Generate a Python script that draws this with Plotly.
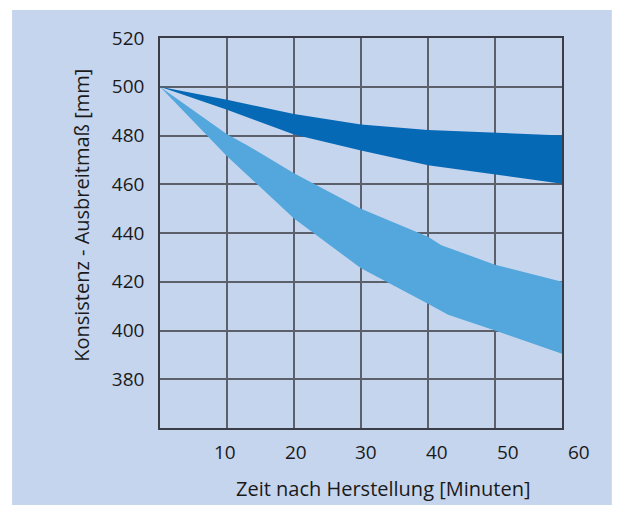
import plotly.graph_objects as go

# ── Data ──────────────────────────────────────────────────────────────────────

# light band (wider spread)
LIGHT_X     = [0, 10, 13, 20, 30, 40, 42, 50, 60]
LIGHT_UPPER = [500, 480.5, 476, 464.5, 450, 438.5, 435, 427, 420]
LIGHT_X_LO  = [0, 10, 20, 30, 40, 43, 50, 60]
LIGHT_LOWER = [500, 471.5, 446, 425.5, 411, 406.5, 400, 390.5]

# dark band (narrow spread)
DARK_X      = [0, 10, 20, 30, 40, 50, 60]
DARK_UPPER  = [500, 494.7, 488.8, 484.5, 482.3, 481.2, 480]
DARK_LOWER  = [500, 490.6, 480.4, 473.8, 467.8, 464, 460.2]

X_TICKS = [10, 20, 30, 40, 50, 60]
Y_TICKS = [380, 400, 420, 440, 460, 480, 500, 520]

X_TITLE = "Zeit nach Herstellung [Minuten]"
Y_TITLE = "Konsistenz - Ausbreitmaß [mm]"

# ── Style ─────────────────────────────────────────────────────────────────────

BG_BLUE    = "#c6d5ee"
DARK_BAND  = "#0569b5"
LIGHT_BAND = "#53a7dd"
GRID       = "#5c606b"
AXIS_LINE  = "#3a3d45"
TEXT       = "#1a1a1a"
FONT       = "Open Sans, sans-serif"


def band(x_up, up, x_lo, lo, color):
    # closed polygon: upper edge left->right, lower edge right->left
    return go.Scatter(
        x=list(x_up) + list(x_lo)[::-1],
        y=list(up) + list(lo)[::-1],
        mode="lines", line=dict(width=0),
        fill="toself", fillcolor=color,
        showlegend=False, hoverinfo="skip",
    )


fig = go.Figure()
fig.add_trace(band(LIGHT_X, LIGHT_UPPER, LIGHT_X_LO, LIGHT_LOWER, LIGHT_BAND))
fig.add_trace(band(DARK_X, DARK_UPPER, DARK_X, DARK_LOWER, DARK_BAND))

# light-blue panel behind everything (white rim left/top/right)
fig.add_shape(type="rect", xref="paper", yref="paper",
              x0=-0.368, x1=1.124, y0=-0.21, y1=1.072,
              fillcolor=BG_BLUE, line=dict(width=0), layer="below")

# x tick labels sit slightly off the grid in the original
for v in X_TICKS:
    fig.add_annotation(x=(v * 1.056 - 0.86) / 60, y=-0.062, xref="paper", yref="paper",
                       xanchor="center", yanchor="middle",
                       text=str(v), showarrow=False,
                       font=dict(family=FONT, size=19, color=TEXT))

fig.add_annotation(x=0.554, y=-0.155, xref="paper", yref="paper", text=X_TITLE,
                   xanchor="center", yanchor="middle",
                   showarrow=False, font=dict(family=FONT, size=20, color=TEXT))
fig.add_annotation(x=-0.194, y=0.544, xref="paper", yref="paper", text=Y_TITLE,
                   xanchor="center", yanchor="middle",
                   textangle=-90, showarrow=False,
                   font=dict(family=FONT, size=20, color=TEXT))

fig.update_layout(
    width=624, height=505,
    margin=dict(l=160, r=62, t=38, b=77),
    paper_bgcolor="white",
    plot_bgcolor="rgba(0,0,0,0)",
    font=dict(family=FONT, size=19, color=TEXT),
    showlegend=False,
)
fig.update_xaxes(
    range=[0, 60], tickvals=X_TICKS[:-1], showticklabels=False,
    showgrid=True, gridcolor=GRID, gridwidth=1.5, zeroline=False,
    showline=True, linecolor=AXIS_LINE, linewidth=1.5, mirror=True,
)
fig.update_yaxes(
    range=[360, 520], tickvals=Y_TICKS, ticklabelstandoff=10,
    showgrid=True, gridcolor=GRID, gridwidth=1.5, zeroline=False,
    showline=True, linecolor=AXIS_LINE, linewidth=1.5, mirror=True,
)

# drop the browser's default 8px body margin so the figure fills the window
fig.write_html("out.html", config={"displayModeBar": False},
               post_script="document.body.style.margin='0';")
